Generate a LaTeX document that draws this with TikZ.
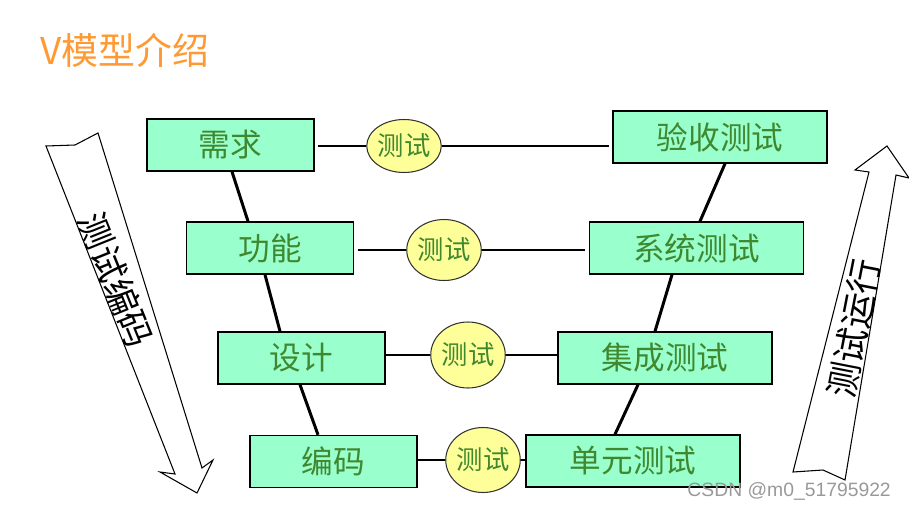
\documentclass[tikz,border=0pt]{standalone}
\usepackage{fontspec}
\usetikzlibrary{shapes.geometric}
\newfontfamily\cjk{Noto Sans CJK SC}
\newfontfamily\wmfont{Liberation Sans}
\definecolor{boxgreen}{RGB}{153,255,204}
\definecolor{txtgreen}{RGB}{64,136,48}
\definecolor{ballyellow}{RGB}{255,255,153}
\definecolor{titleorange}{RGB}{255,153,51}
\begin{document}
\begin{tikzpicture}[x=0.02cm,y=-0.02cm,
    stage/.style={rectangle,draw,line width=0.8pt,fill=boxgreen,text=txtgreen,
        minimum height=1.04cm,font=\cjk\fontsize{18}{20}\selectfont},
    testball/.style={ellipse,draw=black!80,line width=0.6pt,fill=ballyellow,text=txtgreen,
        inner sep=0pt,minimum width=1.45cm,font=\cjk\fontsize{15}{17}\selectfont},
    link/.style={line width=1.7pt}]
    \useasboundingbox (0,0) rectangle (909,510);

    \node[text=titleorange,font=\cjk\fontsize{21}{23}\selectfont] (title) at (125,50) {V模型介绍};

    % left side
    \begin{scope}[every node/.style={stage,minimum width=3.34cm}]
        \node (xq) at (230.5,145) {需求};
        \node (gn) at (270,248) {功能};
        \node (sj) at (301.5,358) {设计};
        \node (bm) at (333.5,461.5) {编码};
    \end{scope}
    % right side
    \begin{scope}[every node/.style={stage,minimum width=4.28cm}]
        \node (ys) at (720,137) {验收测试};
        \node (xt) at (696.5,248) {系统测试};
        \node (jc) at (665,358) {集成测试};
        \node (dy) at (633,461) {单元测试};
    \end{scope}

    % test balls
    \node[testball,minimum height=1.06cm] (t1) at (404,146) {测试};
    \node[testball,minimum height=1.22cm] (t2) at (444,250) {测试};
    \node[testball,minimum height=1.32cm] (t3) at (468,355) {测试};
    \node[testball,minimum height=1.3cm] (t4) at (483,460) {测试};

    \draw[link,shorten <=2pt] (xq.east |- t1) -- (t1);
    \draw[link,shorten >=2pt] (t1) -- (ys.west |- t1);
    \draw[link,shorten <=2pt] (gn.east |- t2) -- (t2);
    \draw[link,shorten >=2pt] (t2) -- (xt.west |- t2);
    \draw[link] (sj.east |- t3) -- (t3);
    \draw[link] (t3) -- (jc.west |- t3);
    \draw[link] (bm.east |- t4) -- (t4);
    \draw[link] (t4) -- (dy.west |- t4);

    \draw[link] ([xshift=0.03cm]xq.south) -- ([xshift=-0.44cm]gn.north);
    \draw[link] ([xshift=-0.1cm]gn.south) -- ([xshift=-0.43cm]sj.north);
    \draw[link] ([xshift=-0.03cm]sj.south) -- ([xshift=-0.31cm]bm.north);
    \draw[link] ([xshift=0.1cm]ys.south) -- ([xshift=0.07cm]xt.north);
    \draw[link] ([xshift=-0.49cm]xt.south) -- ([xshift=-0.2cm]jc.north);
    \draw[link] ([xshift=-0.54cm]jc.south) -- ([xshift=-0.36cm]dy.north);

    % big arrows
    \draw[line width=0.6pt] (46,146) -- (75,145) -- (98,133) -- (202,468) -- (213,460)
        -- (197,493) -- (160,472) -- (175,474) -- cycle;
    \node[rotate=-68,font=\cjk\fontsize{20}{22}\selectfont] (bianma) at (116,280) {测试编码};
    \draw[line width=0.6pt] (793,472) -- (823,470) -- (845,480) -- (896,175) -- (909,178)
        -- (887,146) -- (855,170) -- (869,172) -- cycle;
    \node[rotate=79,font=\cjk\fontsize{20}{22}\selectfont] (yunxing) at (854,328) {测试运行};

    \node[text=black!40,font=\wmfont\fontsize{11}{13}\selectfont,anchor=east] (wm) at (897,491) {CSDN @m0\_51795922};
\end{tikzpicture}
\end{document}
